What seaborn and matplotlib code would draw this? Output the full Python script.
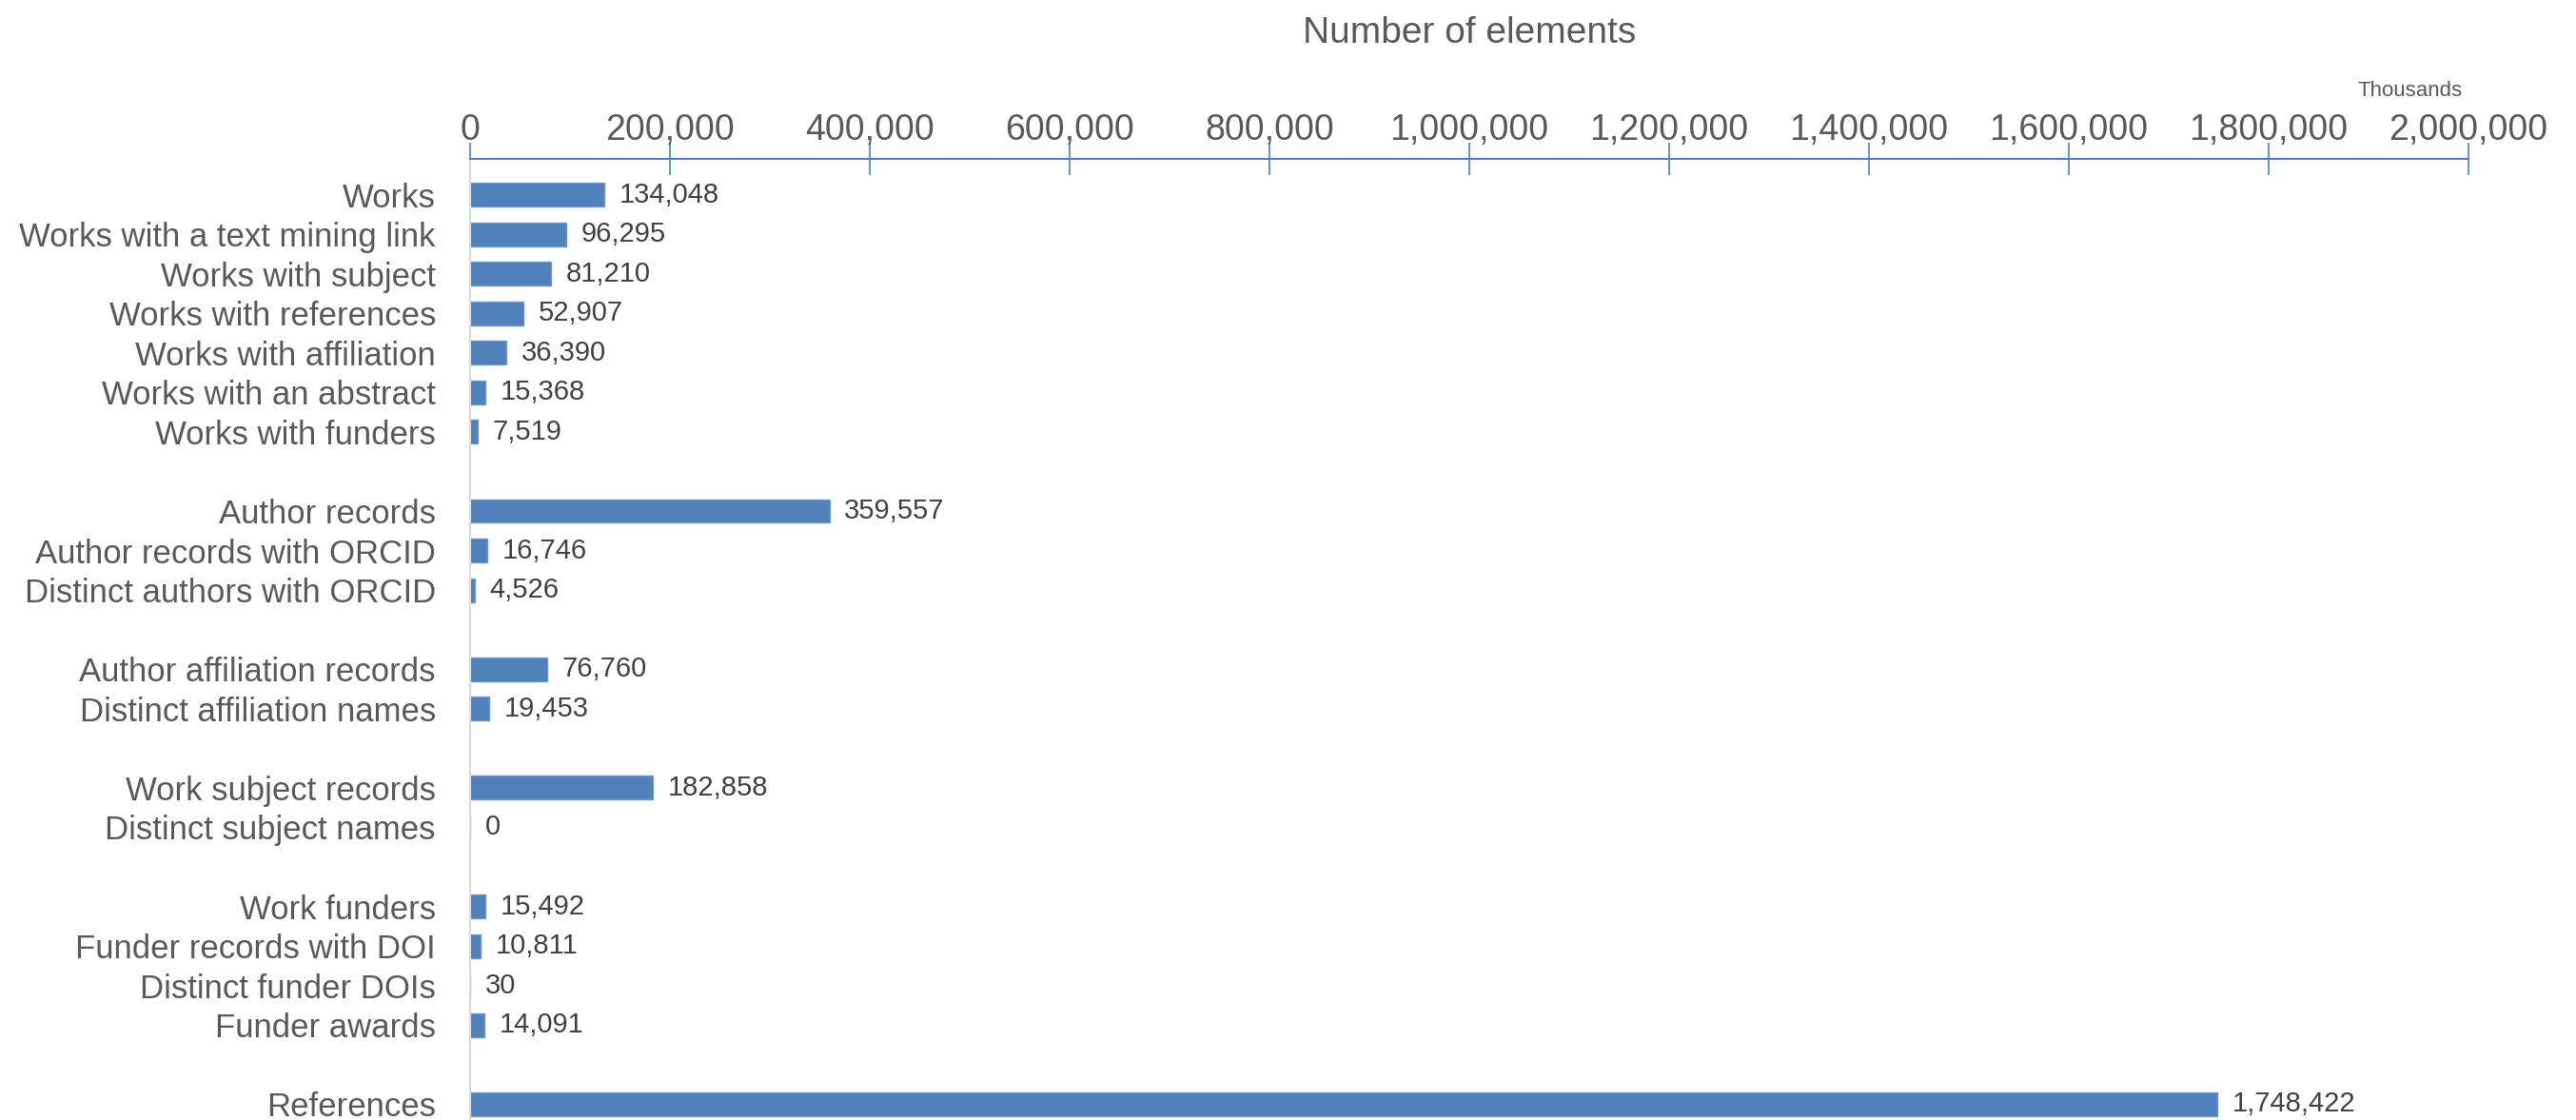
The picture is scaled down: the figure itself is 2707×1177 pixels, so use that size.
import matplotlib
matplotlib.use("Agg")
import matplotlib.pyplot as plt
import matplotlib.ticker as mticker
import seaborn as sns
import pandas as pd

# Category groups (a blank slot separates each group)
works_labels = ["Works", "Works with a text mining link", "Works with subject",
                "Works with references", "Works with affiliation",
                "Works with an abstract", "Works with funders"]
works_values = [134048, 96295, 81210, 52907, 36390, 15368, 7519]

author_labels = ["Author records", "Author records with ORCID",
                 "Distinct authors with ORCID"]
author_values = [359557, 16746, 4526]

affil_labels = ["Author affiliation records", "Distinct affiliation names"]
affil_values = [76760, 19453]

subject_labels = ["Work subject records", "Distinct subject names"]
subject_values = [182858, 0]

funder_labels = ["Work funders", "Funder records with DOI",
                 "Distinct funder DOIs", "Funder awards"]
funder_values = [15492, 10811, 30, 14091]

ref_labels = ["References"]
ref_values = [1748422]

x_ticks = [0, 200000, 400000, 600000, 800000, 1000000,
           1200000, 1400000, 1600000, 1800000, 2000000]

groups = [(works_labels, works_values), (author_labels, author_values),
          (affil_labels, affil_values), (subject_labels, subject_values),
          (funder_labels, funder_values), (ref_labels, ref_values)]

order, names, vals = [], [], []
for gi, (labs, vs) in enumerate(groups):
    if gi > 0:
        order.append(" " * gi)  # spacer row
    order.extend(labs)
    names.extend(labs)
    vals.extend(vs)

df = pd.DataFrame({"name": names, "value": vals})

sns.set_style("white")
plt.rcParams["font.family"] = ["Liberation Sans Narrow", "Liberation Sans", "DejaVu Sans"]
text_color = "#595959"
bar_color = "#4F81BD"

fig = plt.figure(figsize=(27.07, 11.77), dpi=100)
ax = fig.add_axes([0.1825, 0.0, 0.9583 - 0.1825, 0.858])

sns.barplot(data=df, x="value", y="name", order=order, orient="h",
            color=bar_color, saturation=1, width=0.6, ax=ax,
            edgecolor="#6E96CC", linewidth=1)

ax.set_xlim(0, 2000000)
ax.set_ylim(len(order) - 0.6, -0.9)
ax.set_xticks(x_ticks)
ax.xaxis.set_major_formatter(mticker.FuncFormatter(lambda v, p: f"{int(v):,}"))
ax.xaxis.tick_top()
ax.xaxis.set_label_position("top")
ax.tick_params(axis="x", direction="inout", length=24, width=1.2,
               color=bar_color, labelsize=27, labelcolor=text_color, pad=-3)
ax.tick_params(axis="y", length=0, labelsize=25, labelcolor=text_color, pad=26)
ax.set_yticks(range(len(order)))
ax.set_yticklabels([o if o.strip() else "" for o in order])
ax.set_ylabel("")
ax.set_xlabel("Number of elements", fontsize=28, color=text_color, labelpad=53)

for side in ["bottom", "right"]:
    ax.spines[side].set_visible(False)
ax.spines["top"].set_color(bar_color)
ax.spines["top"].set_linewidth(1.5)
ax.spines["left"].set_color("#D9D9D9")
ax.spines["left"].set_linewidth(1.5)

for p in ax.patches:
    w = p.get_width()
    ax.text(w + 15000, p.get_y() + p.get_height() / 2, f"{int(round(w)):,}",
            va="center", ha="left", fontsize=21, color="#404040")

fig.text(0.9357, 0.919, "Thousands", ha="center", va="center",
         fontsize=16, color=text_color)

fig.savefig("out.png", dpi=100)
